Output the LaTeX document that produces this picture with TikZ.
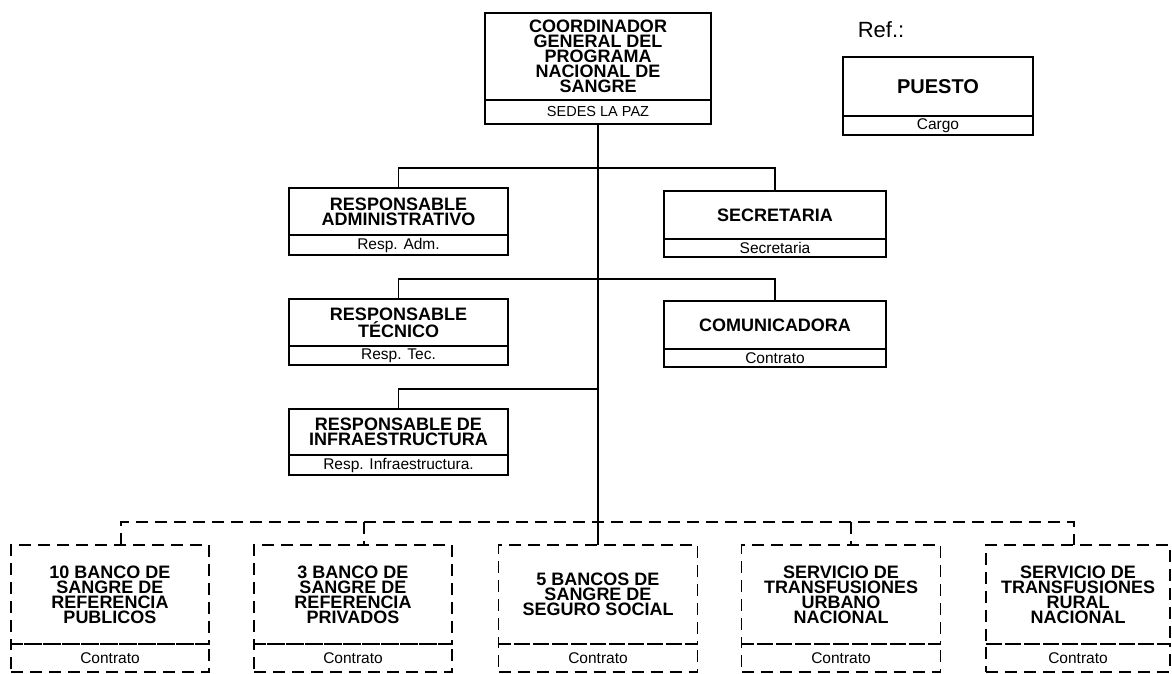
\documentclass[tikz,border=0pt]{standalone}
\usepackage{fontspec}
\setmainfont{Liberation Sans}
\usetikzlibrary{positioning}

\begin{document}
\begin{tikzpicture}[
    x=1pt, y=-1pt,
    puesto/.style={rectangle, draw, line width=1.5pt, outer sep=0pt, inner sep=0pt, align=center, font=\bfseries\fontsize{18}{15}\selectfont},
    cargo/.style={rectangle, draw, line width=1.5pt, outer sep=0pt, inner sep=0pt, minimum width=#1, minimum height=20pt, font=\fontsize{15.5}{17}\selectfont},
    banco/.style={puesto, dashed, dash pattern=on 12pt off 7pt, minimum height=99pt},
    bcargo/.style={cargo=#1, dashed, dash pattern=on 12pt off 7pt, minimum height=28pt},
    link/.style={line width=1.5pt},
    dlink/.style={line width=1.5pt, dash pattern=on 12pt off 7pt}
]
\useasboundingbox (0,0) rectangle (1172,673);

\node[puesto, minimum width=226pt, minimum height=87pt] (coord) at (598,56.5) {COORDINADOR\\GENERAL DEL\\PROGRAMA\\NACIONAL DE\\SANGRE};
\node[cargo=226pt, minimum height=24pt, font=\fontsize{14.5}{16}\selectfont, below=0pt of coord] (coordc) {SEDES LA PAZ};

\node[font=\fontsize{22}{24}\selectfont] (ref) at (881,30) {Ref.:};
\node[puesto, font=\bfseries\fontsize{20}{22}\selectfont, minimum width=190pt, minimum height=59pt] (puesto) at (938,86.5) {PUESTO};
\node[cargo=190pt, minimum height=19pt, below=0pt of puesto] (puestoc) {Cargo};

\node[puesto, minimum width=219pt, minimum height=47pt] (admin) at (398.5,211.5) {RESPONSABLE\\ADMINISTRATIVO};
\node[cargo=219pt, below=0pt of admin] (adminc) {Resp. Adm.};
\node[puesto, minimum width=222pt, minimum height=48pt] (secre) at (775,215) {SECRETARIA};
\node[cargo=222pt, minimum height=18pt, below=0pt of secre] (secrec) {Secretaria};

\node[puesto, minimum width=219pt, minimum height=47pt] (tecnico) at (398.5,322.5) {RESPONSABLE\\TÉCNICO};
\node[cargo=219pt, minimum height=19pt, below=0pt of tecnico] (tecnicoc) {Resp. Tec.};
\node[puesto, minimum width=222pt, minimum height=48pt] (comuni) at (775,325) {COMUNICADORA};
\node[cargo=222pt, minimum height=18pt, below=0pt of comuni] (comunic) {Contrato};

\node[puesto, minimum width=219pt, minimum height=46pt] (infra) at (398.5,432) {RESPONSABLE DE\\INFRAESTRUCTURA};
\node[cargo=219pt, below=0pt of infra] (infrac) {Resp. Infraestructura.};

\node[banco, minimum width=198pt] (banco1) at (110,594.5) {10 BANCO DE\\SANGRE DE\\REFERENCIA\\PUBLICOS};
\node[bcargo=198pt, below=0pt of banco1] (banco1c) {Contrato};
\node[banco, minimum width=198pt] (banco2) at (353,594.5) {3 BANCO DE\\SANGRE DE\\REFERENCIA\\PRIVADOS};
\node[bcargo=198pt, below=0pt of banco2] (banco2c) {Contrato};
\node[banco, minimum width=199pt] (banco3) at (598,594.5) {5 BANCOS DE\\SANGRE DE\\SEGURO SOCIAL};
\node[bcargo=199pt, below=0pt of banco3] (banco3c) {Contrato};
\node[banco, minimum width=199pt] (urbano) at (841,594.5) {SERVICIO DE\\TRANSFUSIONES\\URBANO\\NACIONAL};
\node[bcargo=199pt, below=0pt of urbano] (urbanoc) {Contrato};
\node[banco, minimum width=184pt] (rural) at (1078,594.5) {SERVICIO DE\\TRANSFUSIONES\\RURAL\\NACIONAL};
\node[bcargo=184pt, below=0pt of rural] (ruralc) {Contrato};

\coordinate (j1) at (598,168);
\coordinate (j2) at (598,279);
\coordinate (j3) at (598,389);
\coordinate (d1) at (121,522);
\coordinate (d2) at (364,522);
\coordinate (d4) at (851,522);
\coordinate (d5) at (1074,522);

\draw[link] (coordc) -- (banco3);
\draw[link] (admin) |- (j1) -| (secre);
\draw[link] (tecnico) |- (j2) -| (comuni);
\draw[link] (infra) |- (j3);
\draw[dlink] (d1 |- banco1.north) -- (d1) -- (d5) -- (d5 |- rural.north);
\draw[dlink] (d2) -- (d2 |- banco2.north);
\draw[dlink] (d4) -- (d4 |- urbano.north);
\end{tikzpicture}
\end{document}
